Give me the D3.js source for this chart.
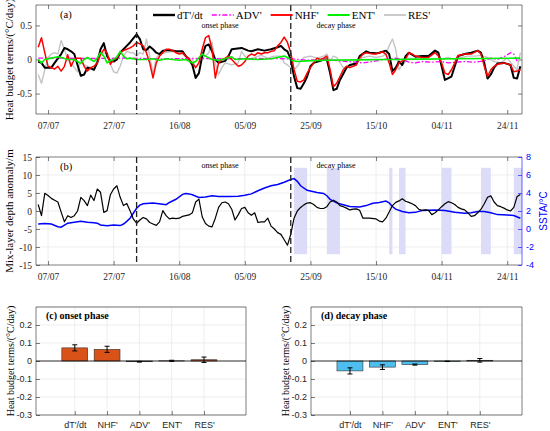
<!DOCTYPE html>
<html>
<head>
<meta charset="utf-8">
<script src="https://cdn.jsdelivr.net/npm/d3@7"></script>
<style>
  body { margin: 0; background: #fff; }
  svg { display: block; }
</style>
</head>
<body>
<svg id="fig" width="550" height="431"></svg>
<script>
// ---- data (day numbers count from 1 July, day 0 = 01/07) ----
const dateTicks = ["07/07", "27/07", "16/08", "05/09", "25/09", "15/10", "04/11", "24/11"];
const phaseStarts = ["03/08", "19/09"];
const phaseNames = ["onset phase", "decay phase"];

// panel (a): heat budget terms, °C/day
const dTdt = [[3,-0.03],[4,-0.05],[5,-0.12],[6,-0.12],[7,-0.12],[8,-0.05],[10,0.08],[11,0.17],[12,0.15],[13,0.12],[14,0.08],[15,-0.08],[16,-0.24],[17,-0.22],[18,-0.12],[19,-0.13],[20,-0.15],[21,-0.05],[22,0.15],[23,0.24],[24,0.05],[25,-0.02],[26,-0.03],[27,0],[28,0.1],[29,0.15],[30,0.2],[31,0.25],[32,0.31],[33,0.37],[34,0.3],[35,0.15],[36,0.14],[37,0.19],[38,0.15],[39,0.1],[40,0.08],[41,0.13],[43,0.14],[45,0.12],[47,0.12],[48,0.05],[49,0],[50,-0.08],[51,-0.27],[52,-0.2],[53,0.05],[54,0.2],[55,0.22],[56,0.12],[57,0],[58,-0.05],[60,-0.02],[61,0.05],[62,0.15],[65,0.17],[67,0.13],[68,0.12],[70,0.15],[72,0.13],[74,0.15],[76,0.18],[77,0.2],[78,0.15],[79,0.12],[80,0],[81,-0.25],[82,-0.42],[83,-0.43],[84,-0.35],[85,-0.25],[86,-0.1],[87,-0.05],[89,-0.02],[90,0],[91,0],[92,-0.2],[93,-0.45],[94,-0.43],[95,-0.3],[97,-0.12],[98,-0.08],[100,-0.06],[101,0.05],[103,0.12],[104,0.1],[106,0.09],[107,0.1],[109,0.13],[110,0.08],[111,-0.17],[112,-0.12],[113,-0.03],[114,-0.08],[115,0.05],[116,0.1],[118,0.04],[120,0.05],[122,0.05],[124,0.13],[125,0.1],[126,-0.1],[127,-0.3],[129,-0.25],[130,-0.1],[131,0.05],[133,0.08],[135,0.1],[137,0.13],[138,0.1],[139,-0.05],[140,-0.28],[141,-0.22],[142,-0.12],[143,-0.06],[145,-0.05],[147,-0.08],[148,-0.27],[149,-0.28],[150,-0.1]];
const adv = [[3,0.02],[10,0.02],[20,0.015],[30,0.02],[40,0.01],[50,0.015],[60,0.01],[70,0.015],[80,0.01],[85,-0.01],[90,0],[95,-0.02],[100,-0.04],[102,-0.05],[105,-0.03],[108,0],[110,0.01],[112,0.02],[114,0],[116,-0.04],[118,-0.05],[120,-0.03],[123,-0.04],[126,-0.03],[128,-0.05],[130,-0.04],[133,-0.03],[136,-0.04],[139,-0.02],[141,0.02],[143,0],[145,0.04],[147,0.1],[148,0.08],[149,-0.02],[150,0.04]];
const nhf = [[3,0.18],[4,0.32],[5,0.1],[6,-0.1],[7,-0.12],[8,-0.14],[9,-0.1],[10,-0.17],[11,-0.1],[12,0.07],[13,-0.1],[14,0],[15,0.02],[16,0.02],[17,-0.1],[18,-0.17],[19,-0.12],[20,-0.1],[21,-0.05],[22,0.07],[23,0.15],[24,0.1],[25,-0.07],[26,0],[27,0.02],[28,0.1],[29,0.13],[30,0.15],[31,0.17],[32,0.2],[33,0.25],[34,0.23],[35,0.2],[36,0.1],[37,-0.05],[38,-0.27],[39,-0.05],[40,0.05],[41,0.1],[42,0.15],[43,0.15],[44,0.13],[45,0.1],[46,0.08],[47,0.1],[48,0.05],[49,0],[50,-0.05],[51,-0.12],[52,-0.05],[53,0.15],[54,0.32],[55,0.35],[56,0.15],[57,-0.27],[58,-0.05],[59,0],[60,0.02],[61,0.05],[62,0],[63,-0.05],[64,-0.1],[65,-0.08],[66,-0.03],[67,0.05],[68,0.08],[69,0.06],[70,0.1],[71,0.08],[72,0.1],[73,0.1],[74,0.12],[75,0.13],[76,0.2],[77,0.25],[78,0.33],[79,0.25],[80,0.1],[81,-0.15],[82,-0.32],[83,-0.33],[84,-0.3],[85,-0.2],[86,-0.12],[87,-0.05],[88,0.02],[89,0],[90,0.02],[91,0.05],[92,-0.15],[93,-0.4],[94,-0.35],[95,-0.25],[96,-0.15],[97,-0.1],[98,-0.12],[99,-0.1],[100,-0.08],[101,0.02],[102,0.08],[103,0.1],[104,0.09],[105,0.08],[106,0.08],[107,0.1],[108,0.11],[109,0.08],[110,-0.05],[111,-0.22],[112,-0.15],[113,-0.05],[114,-0.02],[115,0],[116,0.1],[117,0.08],[118,0.05],[120,0.03],[122,0.03],[124,0.1],[125,0.05],[126,-0.05],[127,-0.2],[128,-0.22],[129,-0.15],[130,-0.05],[131,0.06],[133,0.08],[135,0.08],[137,0.13],[138,0.08],[139,-0.1],[140,-0.25],[141,-0.15],[142,-0.1],[143,-0.07],[145,-0.05],[147,-0.08],[148,-0.18],[149,-0.17],[150,-0.15]];
const ent = [[3,0],[4,-0.05],[5,0],[7,0.02],[9,0.04],[10,0.03],[12,0],[14,0],[15,-0.03],[16,-0.06],[17,0],[18,0.03],[19,0],[20,-0.03],[21,0.02],[22,0.1],[23,0.05],[24,-0.05],[25,-0.02],[26,0],[27,0.04],[28,0.12],[29,0.05],[30,0.01],[31,0.02],[33,0],[36,0],[38,0.01],[40,-0.01],[42,0.01],[44,0],[46,-0.01],[48,0],[50,-0.05],[51,-0.03],[53,0.08],[54,0.05],[56,0],[58,-0.01],[60,0.01],[62,0.04],[63,0],[66,0.01],[70,0],[74,0.01],[77,0.04],[78,0.05],[79,0.03],[80,-0.01],[82,-0.03],[85,-0.02],[90,-0.01],[100,-0.005],[110,0],[120,0.005],[130,0.01],[140,0.015],[150,0.02]];
const res = [[3,-0.22],[4,-0.35],[5,-0.15],[6,0.03],[7,0.08],[8,0.1],[9,0.08],[10,0.28],[11,0.15],[12,0],[13,-0.05],[14,-0.12],[15,-0.18],[16,0],[17,-0.08],[18,-0.1],[19,-0.12],[20,-0.15],[21,0],[22,0.07],[23,0.1],[24,0.08],[25,-0.07],[26,-0.18],[27,-0.2],[28,-0.1],[29,0.05],[30,0.12],[31,0.1],[32,0.1],[33,0.05],[34,0.1],[35,0.08],[36,0.3],[37,0.05],[38,-0.2],[39,0.02],[40,0.08],[42,0.1],[44,0.12],[46,0.1],[48,0.05],[50,0],[51,-0.12],[52,-0.05],[53,0.02],[54,0.05],[55,0.1],[56,0.25],[57,-0.05],[58,-0.22],[59,-0.12],[60,-0.05],[62,-0.08],[64,-0.05],[65,0.12],[66,0.05],[67,0],[69,0.03],[71,0.06],[73,0.02],[75,0.05],[77,0.05],[78,-0.05],[79,-0.08],[80,-0.12],[81,-0.15],[82,-0.1],[83,-0.02],[84,0.03],[86,0.05],[88,0.02],[90,0.05],[91,0.08],[92,-0.02],[93,0.05],[94,0.03],[96,-0.12],[98,-0.1],[100,-0.03],[102,0.03],[104,0.05],[106,0.03],[108,0.05],[109,0.08],[110,0.2],[111,0.3],[112,0.15],[113,-0.15],[114,-0.08],[116,0.02],[118,0.01],[120,0],[122,0.05],[124,0.12],[125,0.08],[126,0],[128,0.03],[130,0],[132,0.03],[134,0.05],[136,0.05],[138,0.06],[140,0.03],[142,-0.03],[144,-0.05],[146,0.02],[148,-0.1],[149,-0.15],[150,0.1]];

// panel (b): mixed-layer depth anomaly (m) and SSTA (°C)
const mld = [[3,1.8],[4,-1.3],[5,4.9],[6,4.3],[7,3.5],[8,3],[9,2.5],[10,-0.3],[11,-3],[12,-1.3],[13,-1.8],[14,-1.3],[15,0],[16,3.8],[17,2.9],[18,1.5],[19,4.4],[20,2.9],[21,6.1],[22,5.2],[23,-0.4],[24,0.1],[25,4.5],[26,6.1],[27,7],[28,3.8],[29,1.5],[30,2.1],[31,0.1],[32,-2.2],[33,-3.4],[34,-2.5],[35,-1.8],[36,-2.2],[37,-3.2],[38,-3.6],[39,-4],[40,-3],[41,0.1],[42,-1.3],[43,-2.2],[44,-2],[45,-2.1],[46,-2],[47,-1.5],[48,-1.3],[49,-1.1],[50,-0.5],[51,2.5],[52,3.3],[53,-1.6],[54,-3.5],[55,-4.2],[56,-4.4],[57,-2],[58,1],[59,2.3],[60,2.5],[61,2],[62,0.5],[63,-2.5],[64,-1],[65,0.7],[66,1],[67,-0.5],[68,-1.2],[69,-0.5],[70,-3.2],[71,-3],[72,-3],[73,-2],[74,-4.2],[75,-5],[76,-6],[77,-6.5],[78,-8],[79,-9.5],[80,-6.5],[81,-2],[82,0],[83,1],[84,1.7],[85,2.2],[86,2.3],[87,1.8],[88,1],[89,0.7],[90,0.7],[91,1.2],[92,2.5],[93,3],[94,2.5],[95,1.5],[96,1.2],[97,0.8],[98,0.3],[99,0.5],[100,0.6],[101,0.2],[102,-2],[104,-2],[106,-2.2],[107,-2.8],[108,-3],[109,-2],[110,-0.3],[111,1.5],[112,2.4],[113,2.8],[114,3.4],[115,2.7],[116,2.4],[117,2],[118,1.5],[119,0.5],[120,0.2],[121,0.3],[122,0.2],[123,-1],[124,-0.5],[125,0.3],[126,1.2],[127,2],[128,2.6],[129,2.3],[130,1.8],[131,1],[132,0.6],[133,0.3],[134,-0.5],[135,-1.5],[136,-1.3],[137,-0.5],[138,0.5],[139,2],[140,3.8],[141,4.2],[142,2.5],[143,1.5],[144,1.2],[145,0.8],[146,0.3],[147,0],[148,1],[149,4],[150,4.6]];
const ssta = [[3,0.55],[5,0.6],[7,0.55],[9,0.25],[10,0.2],[12,0.65],[14,0.75],[16,0.85],[18,0.75],[20,0.7],[21,0.65],[22,0.45],[24,0.35],[26,0.45],[28,0.38],[29,0.55],[30,0.85],[31,1.2],[32,1.75],[33,2.3],[34,2.65],[35,2.8],[38,2.9],[41,2.75],[42,2.7],[43,2.95],[45,3.3],[47,3.85],[48,3.95],[49,3.9],[50,3.8],[52,3.5],[54,3.55],[56,3.7],[58,3.6],[61,3.6],[64,3.65],[66,3.75],[68,3.9],[70,4.25],[72,4.55],[74,4.8],[76,4.95],[78,5.2],[80,5.5],[81,5.6],[82,5.3],[83,4.8],[85,4.3],[88,4.05],[90,3.95],[91,3.7],[92,3.3],[94,2.9],[96,2.7],[98,2.5],[101,2.45],[103,2.6],[105,2.85],[107,2.95],[109,3.1],[110,2.9],[111,2.5],[112,2.2],[114,1.95],[116,1.8],[118,1.85],[120,2.05],[124,2.1],[127,2.05],[130,1.85],[133,1.75],[135,1.8],[137,1.95],[139,1.95],[141,1.8],[143,1.6],[146,1.55],[148,1.5],[150,1.2]];
// shaded periods in panel (b), start/end dd/mm
const shadeStart = ["20/09", "30/09", "19/10", "22/10", "04/11", "16/11", "26/11"];
const shadeEnd   = ["24/09", "04/10", "20/10", "24/10", "07/11", "19/11", "29/11"];

// panels (c), (d): phase-mean heat budget terms with error bars
const terms = ["dT'/dt", "NHF'", "ADV'", "ENT'", "RES'"];
const onsetMean = [0.073, 0.065, -0.004, 0.001, 0.007];
const onsetErr  = [0.017, 0.017, 0.002, 0.003, 0.015];
const decayMean = [-0.055, -0.034, -0.02, -0.002, 0.004];
const decayErr  = [0.017, 0.013, 0.003, 0.001, 0.01];

// ---- helpers ----
const YEAR = 2020;
const dayDate = d => new Date(Date.UTC(YEAR, 6, 1) + d * 864e5);
const dm = s => { const [dd, mm] = s.split('/').map(Number); return new Date(Date.UTC(YEAR, mm - 1, dd)); };
const SERIF = "'Liberation Serif','Times New Roman',serif";
const SANS = "'Liberation Sans',Arial,sans-serif";
const AX = '#262626';
const GRID = '#e3e3e3';

const svg = d3.select('#fig');
const fmtNum = d => String(d);

const A = {l: 36, r: 522, t: 5,   b: 114};
const B = {l: 36, r: 522, t: 157, b: 265};
const C = {l: 36, r: 246, t: 307, b: 415};
const D = {l: 311, r: 522, t: 307, b: 415};

const x = d3.scaleUtc().domain([dayDate(2.33), dayDate(150.5)]).range([A.l, A.r]);
const tickDates = dateTicks.map(dm);

function styleAxis(g, font, size, color) {
  g.attr('font-family', font).attr('font-size', size);
  g.select('.domain').remove();
  g.selectAll('line').attr('stroke', color).attr('stroke-width', 0.6);
  g.selectAll('text').attr('fill', color);
  return g;
}

function clip(id, P) {
  svg.append('clipPath').attr('id', id).append('rect')
    .attr('x', P.l).attr('y', P.t).attr('width', P.r - P.l).attr('height', P.b - P.t);
}

function box(P, rightColor) {
  const g = svg.append('g').attr('fill', 'none').attr('stroke-width', 0.6);
  g.append('path').attr('stroke', AX)
    .attr('d', `M${P.r},${P.t}H${P.l}V${P.b}H${P.r}`);
  g.append('line').attr('stroke', rightColor || AX)
    .attr('x1', P.r).attr('x2', P.r).attr('y1', P.t).attr('y2', P.b);
}

function timeAxes(P, y, yTicks) {
  styleAxis(svg.append('g').attr('transform', `translate(0,${P.b})`)
    .call(d3.axisBottom(x).tickValues(tickDates).tickFormat(d3.utcFormat('%d/%m'))
      .tickSizeInner(-4).tickSizeOuter(0).tickPadding(8)), SERIF, 9.5, AX);
  styleAxis(svg.append('g').attr('transform', `translate(0,${P.t})`)
    .call(d3.axisTop(x).tickValues(tickDates).tickFormat('').tickSizeInner(-4).tickSizeOuter(0)), SERIF, 9.5, AX);
  styleAxis(svg.append('g').attr('transform', `translate(${P.l},0)`)
    .call(d3.axisLeft(y).tickValues(yTicks).tickFormat(fmtNum)
      .tickSizeInner(-4).tickSizeOuter(0).tickPadding(4)), SERIF, 9.5, AX);
}

function ylabel(text, xPos, P, size, font, color) {
  svg.append('text')
    .attr('transform', `translate(${xPos},${(P.t + P.b) / 2}) rotate(-90)`)
    .attr('text-anchor', 'middle').attr('font-family', font || SERIF)
    .attr('font-size', size).attr('fill', color || '#000').text(text);
}

function phaseMarks(P) {
  const g = svg.append('g');
  phaseStarts.forEach(s => {
    const px = x(dm(s));
    g.append('line').attr('x1', px).attr('x2', px).attr('y1', P.t).attr('y2', P.b)
      .attr('stroke', '#222').attr('stroke-width', 1.3).attr('stroke-dasharray', '6,3');
  });
}

// ================= panel (a) =================
const ya = d3.scaleLinear().domain([-0.8, 0.8]).range([A.b, A.t]);
clip('clipA', A);
box(A);
timeAxes(A, ya, [-0.5, 0, 0.5]);
styleAxis(svg.append('g').attr('transform', `translate(${A.r},0)`)
  .call(d3.axisRight(ya).tickValues([-0.5, 0, 0.5]).tickFormat('').tickSizeInner(-4).tickSizeOuter(0)), SERIF, 9, AX);

const seriesA = [
  {name: "dT'/dt", data: dTdt, color: '#000000', w: 2.0, dash: null},
  {name: "ADV'",   data: adv,  color: '#ff00ff', w: 1.3, dash: '5,2,1.5,2'},
  {name: "NHF'",   data: nhf,  color: '#ff0000', w: 1.5, dash: null},
  {name: "ENT'",   data: ent,  color: '#00ee00', w: 1.6, dash: null},
  {name: "RES'",   data: res,  color: '#c4c4c4', w: 1.4, dash: null},
];
const drawOrder = [4, 0, 1, 2, 3];
const lineA = d3.line().x(p => x(dayDate(p[0]))).y(p => ya(p[1]));
const gA = svg.append('g').attr('clip-path', 'url(#clipA)');
drawOrder.forEach(i => {
  const s = seriesA[i];
  gA.append('path').datum(s.data).attr('d', lineA).attr('fill', 'none')
    .attr('stroke', s.color).attr('stroke-width', s.w)
    .attr('stroke-dasharray', s.dash).attr('stroke-linejoin', 'round');
});
phaseMarks(A);
ylabel('Heat budget terms/(°C/day)', 13, A, 11);

svg.append('text').attr('x', 60).attr('y', 18).attr('font-family', SERIF)
  .attr('font-size', 10.5).text('(a)');
[220, 336].forEach((cx, i) => svg.append('text').attr('x', cx).attr('y', 28)
  .attr('text-anchor', 'middle').attr('font-family', SERIF).attr('font-size', 8).text(phaseNames[i]));

// legend
let lx = 153;
const legG = svg.append('g').attr('font-family', SERIF).attr('font-size', 11);
seriesA.forEach(s => {
  legG.append('line').attr('x1', lx).attr('x2', lx + 22).attr('y1', 15).attr('y2', 15)
    .attr('stroke', s.color).attr('stroke-width', s.w + 0.4).attr('stroke-dasharray', s.dash);
  const t = legG.append('text').attr('x', lx + 24).attr('y', 19).text(s.name);
  lx += 24 + t.node().getComputedTextLength() + 9;
});

// ================= panel (b) =================
const yb = d3.scaleLinear().domain([-15, 15]).range([B.b, B.t]);
const ys = d3.scaleLinear().domain([-4, 8]).range([B.b, B.t]);
clip('clipB', B);
const gridB = svg.append('g').attr('stroke', GRID).attr('stroke-width', 0.6);
tickDates.forEach(d => gridB.append('line').attr('x1', x(d)).attr('x2', x(d)).attr('y1', B.t).attr('y2', B.b));
d3.range(-10, 15, 5).forEach(v => gridB.append('line').attr('x1', B.l).attr('x2', B.r).attr('y1', yb(v)).attr('y2', yb(v)));

svg.append('g').attr('clip-path', 'url(#clipB)').selectAll('rect')
  .data(shadeStart.map((s, i) => [dm(s), dm(shadeEnd[i])])).join('rect')
  .attr('x', d => x(d[0])).attr('width', d => x(d[1]) - x(d[0]))
  .attr('y', yb(12)).attr('height', yb(-12) - yb(12)).attr('fill', '#dcdcf8');

box(B, '#0000ff');
timeAxes(B, yb, d3.range(-15, 16, 5));
styleAxis(svg.append('g').attr('transform', `translate(${B.r},0)`)
  .call(d3.axisRight(ys).tickValues(d3.range(-4, 9, 2)).tickFormat(fmtNum)
    .tickSizeInner(-4).tickSizeOuter(0).tickPadding(4)), SANS, 9, '#0000ff');

const gB = svg.append('g').attr('clip-path', 'url(#clipB)').attr('fill', 'none');
gB.append('path').datum(ssta).attr('stroke', '#0000ff').attr('stroke-width', 1.5)
  .attr('d', d3.line().x(p => x(dayDate(p[0]))).y(p => ys(p[1])));
gB.append('path').datum(mld).attr('stroke', '#000').attr('stroke-width', 1.2).attr('stroke-linejoin', 'round')
  .attr('d', d3.line().x(p => x(dayDate(p[0]))).y(p => yb(p[1])));
phaseMarks(B);
ylabel('Mix-layer depth anomaly/m', 13, B, 11);
ylabel('SSTA/°C', 547, B, 10, SANS, '#0000ff');
svg.append('text').attr('x', 60).attr('y', 170).attr('font-family', SERIF)
  .attr('font-size', 10.5).text('(b)');
[220, 336].forEach((cx, i) => svg.append('text').attr('x', cx).attr('y', 168)
  .attr('text-anchor', 'middle').attr('font-family', SERIF).attr('font-size', 8).text(phaseNames[i]));

// ================= panels (c), (d) =================
function barPanel(P, means, errs, color, title, labelX) {
  const xb = d3.scaleLinear().domain([-0.2, 6.3]).range([P.l, P.r]);
  const yc = d3.scaleLinear().domain([-0.3, 0.3]).range([P.b, P.t]);
  const yTicks = [-0.3, -0.2, -0.1, 0, 0.1, 0.2];
  const g = svg.append('g').attr('stroke', GRID).attr('stroke-width', 0.6);
  d3.range(1, 6).forEach(i => g.append('line').attr('x1', xb(i)).attr('x2', xb(i)).attr('y1', P.t).attr('y2', P.b));
  yTicks.concat([0.3]).forEach(v => g.append('line').attr('x1', P.l).attr('x2', P.r).attr('y1', yc(v)).attr('y2', yc(v)));

  box(P);
  styleAxis(svg.append('g').attr('transform', `translate(0,${P.b})`)
    .call(d3.axisBottom(xb).tickValues(d3.range(1, 6)).tickFormat(i => terms[i - 1])
      .tickSizeInner(-4).tickSizeOuter(0).tickPadding(7)), SANS, 9, AX);
  styleAxis(svg.append('g').attr('transform', `translate(${P.l},0)`)
    .call(d3.axisLeft(yc).tickValues(yTicks).tickFormat(fmtNum)
      .tickSizeInner(-4).tickSizeOuter(0).tickPadding(4)), SANS, 9, AX);

  const bw = xb(0.8) - xb(0);
  svg.append('g').selectAll('rect').data(means).join('rect')
    .attr('x', (m, i) => xb(i + 1) - bw / 2).attr('width', bw)
    .attr('y', m => yc(Math.max(0, m))).attr('height', m => Math.abs(yc(m) - yc(0)))
    .attr('fill', color).attr('stroke', '#333').attr('stroke-width', 0.6);
  svg.append('line').attr('x1', P.l).attr('x2', P.r).attr('y1', yc(0)).attr('y2', yc(0))
    .attr('stroke', '#000').attr('stroke-width', 0.8);

  const eg = svg.append('g').attr('stroke', '#000').attr('stroke-width', 1);
  means.forEach((m, i) => {
    const cx = xb(i + 1), e = errs[i];
    eg.append('line').attr('x1', cx).attr('x2', cx).attr('y1', yc(m - e)).attr('y2', yc(m + e));
    [m - e, m + e].forEach(v => eg.append('line').attr('x1', cx - 2.5).attr('x2', cx + 2.5)
      .attr('y1', yc(v)).attr('y2', yc(v)));
  });

  svg.append('text').attr('x', P.l + 10).attr('y', P.t + 12).attr('font-family', SERIF)
    .attr('font-weight', 'bold').attr('font-size', 10).text(title);
  ylabel('Heat budget terms/(°C/day)', labelX, P, 10);
}

barPanel(C, onsetMean, onsetErr, '#d95319', '(c) onset phase', 14);
barPanel(D, decayMean, decayErr, '#4dbeee', '(d) decay phase', 289);
</script>
</body>
</html>
